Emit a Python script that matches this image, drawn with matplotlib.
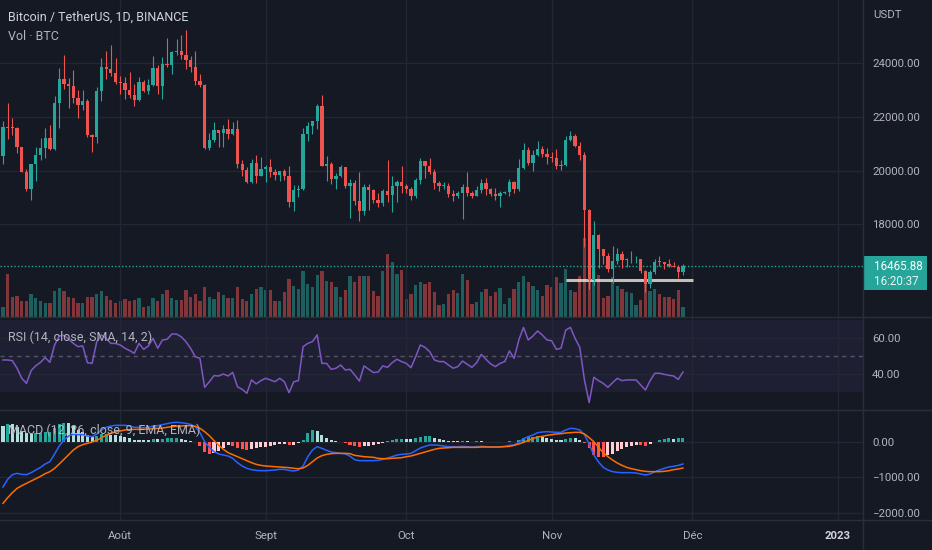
import numpy as np
import pandas as pd
import matplotlib
matplotlib.use("Agg")
import matplotlib.pyplot as plt
import matplotlib.dates as mdates
from matplotlib.patches import Rectangle
from matplotlib.lines import Line2D
from matplotlib.transforms import IdentityTransform

# ---------------- data ----------------
start_date = "2022-07-07"
opens = [20548,21618,21588,21580,20862,19963,19329,20235,20588,20830,
         21196,20785,22525,23410,23223,23153,22684,22451,22579,21310,
         21254,22952,23843,23775,23643,23293,23269,22988,22819,22626,
         23312,22954,23175,23810,23149,23954,23934,24403,24442,24305,
         24095,23855,23343,23191,20834,21141,21517,21400,21529,21368,
         21560,20241,20037,19555,20285,19811,20050,20127,19953,19832,
         19987,19812,18837,19290,19320,21361,21648,21826,22396,20173,
         20226,19701,19803,20114,19417,19538,18874,18476,19402,19289,
         18920,18803,19222,19080,19412,19591,19423,19311,19057,19630,
         20337,20159,19955,19530,19417,19439,19131,19060,19155,19375,
         19176,19069,19262,19549,19328,19123,19041,19164,19204,19570,
         19330,20080,20771,20295,20591,20809,20627,20491,20483,20151,
         20207,21149,21299,20905,20591,18547,15922,17601,17071,16812,
         16330,16619,16900,16663,16692,16695,16705,16280,15781,16227,
         16603,16598,16522,16458,16428,16212]
highs = [21839,22527,21950,21608,20877,20060,20250,20880,21200,21578,
         21685,22777,23800,24280,23442,23757,22996,23014,22667,21348,
         23112,24199,24442,24668,24194,23509,23463,23647,23223,23472,
         23354,23402,24245,23933,24226,24918,24456,24888,25047,25211,
         24247,24446,23600,23205,21382,21800,21522,21680,21900,21819,
         21886,20400,20142,20433,20575,20490,20208,20445,20058,20000,
         20055,20180,19464,19457,21597,21810,21860,22488,22799,20540,
         20330,19891,20189,20117,19686,19634,19956,19500,19500,19316,
         19180,19318,20385,19790,19645,20185,19485,19395,19719,20475,
         20365,20456,20055,19627,19558,19525,19268,19225,19513,19951,
         19227,19426,19676,19706,19360,19347,19250,19257,19695,19601,
         20415,21020,20875,20750,21085,20931,20845,20700,20800,20393,
         21302,21480,21365,21070,20700,18587,18136,17655,17094,16950,
         17190,17134,17015,16750,17010,16820,16720,16290,16300,16708,
         16812,16613,16700,16600,16483,16530]
lows = [20236,21189,21338,20655,19937,19240,18910,19616,20385,20484,
        20755,20762,21582,23040,22341,22500,21950,22258,21250,20706,
        21042,22582,23414,23502,23227,22850,22654,22681,22400,22587,
        22909,22844,23155,22865,22665,23852,23583,24296,24150,23773,
        23671,23180,23108,20806,20762,21068,20890,20890,21155,21310,
        20107,19800,19520,19550,19540,19800,19565,19754,19655,19600,
        19636,18649,18510,19010,19291,21111,21350,21538,20155,19617,
        19497,19320,19748,19335,18232,18711,18125,18356,18531,18805,
        18630,18680,18816,18471,18843,19155,19160,18920,18960,19490,
        19730,19853,19320,19252,19316,19020,18860,18965,18190,19070,
        18975,19063,19160,19096,19068,18900,18650,19111,19070,19157,
        19240,20050,20190,20000,20552,20500,20237,20330,20048,20032,
        20180,21080,20880,20385,17166,15588,15754,16361,16538,16214,
        15815,16527,16368,16410,16560,16550,16180,15476,15630,16160,
        16458,16353,16400,16400,16000,16110]
closes = [21618,21588,21580,20862,19963,19329,20235,20588,20830,21196,
          20785,22525,23410,23223,23153,22684,22451,22579,21310,21254,
          22952,23843,23775,23643,23293,23269,22988,22819,22626,23312,
          22954,23175,23810,23149,23954,23934,24403,24442,24305,24095,
          23855,23343,23191,20834,21141,21517,21400,21529,21368,21560,
          20241,20037,19555,20285,19811,20050,20127,19953,19832,19987,
          19812,18837,19290,19320,21361,21648,21826,22396,20173,20226,
          19701,19803,20114,19417,19538,18874,18476,19402,19289,18920,
          18803,19222,19080,19412,19591,19423,19311,19057,19630,20337,
          20159,19955,19530,19417,19439,19131,19060,19155,19375,19176,
          19069,19262,19549,19328,19123,19041,19164,19204,19570,19330,
          20080,20771,20295,20591,20809,20627,20491,20483,20151,20207,
          21149,21299,20905,20591,18547,15922,17601,17071,16812,16330,
          16619,16900,16663,16692,16700,16705,16280,15781,16227,16603,
          16598,16522,16458,16428,16212,16465.88]
# volume, thousands of BTC
volumes_k = [100,430,200,210,160,160,230,190,160,140,
             140,260,290,260,200,190,140,140,200,200,
             230,260,210,170,140,160,180,160,170,190,
             100,110,190,160,230,270,190,170,170,270,
             200,230,160,300,200,180,250,220,190,190,
             300,180,160,230,280,300,270,270,160,160,
             250,380,310,280,460,330,300,420,460,360,
             350,300,200,270,410,350,410,410,410,260,
             210,460,630,550,430,470,180,230,320,350,
             330,350,250,120,130,230,270,240,430,370,
             130,150,250,280,210,250,290,130,190,280,
             350,410,350,310,270,210,320,300,400,340,
             480,270,250,410,790,650,520,420,190,210,
             400,310,280,250,240,120,170,340,260,280,
             230,200,200,180,270,100]
rsi = [47.8,47.8,47.4,43.2,37.6,34.8,41.9,44.6,46.5,49.1,
       46.5,56.1,61.1,61.5,59.3,57.0,55.2,55.6,46.3,45.9,
       58.0,61.7,59.8,57.0,57.0,56.1,54.3,53.0,51.5,57.0,
       53.7,55.6,59.8,54.3,58.9,59.3,62.2,62.2,60.7,58.0,
       54.3,49.6,48.7,32.6,35.7,39.1,38.9,40.0,38.9,40.9,
       32.9,31.5,29.3,36.7,34.5,36.3,37.6,36.7,35.7,37.6,
       35.7,29.6,35.7,36.3,55.2,57.0,58.0,61.7,45.9,45.9,
       42.6,43.2,45.0,42.2,42.6,39.5,36.1,44.5,42.6,40.8,
       41.1,44.5,43.7,46.3,48.2,46.9,45.9,43.5,49.6,56.1,
       54.8,52.4,47.8,46.9,46.9,45.0,43.2,44.1,47.2,45.4,
       43.7,46.3,50.9,48.2,45.6,44.1,45.9,46.9,52.8,48.7,
       58.9,65.9,58.9,61.1,63.9,61.7,58.9,58.5,53.7,54.3,
       64.4,65.9,59.8,54.8,36.7,24.1,38.2,36.3,34.8,32.6,
       35.2,37.6,36.3,36.7,36.7,36.7,33.9,31.1,36.3,40.4,
       40.4,39.8,39.3,38.9,37.0,41.1]
macd = [-1268,-1052,-921,-883,-911,-921,-864,-789,-714,-620,
        -554,-338,-113,56,169,216,206,206,169,150,
        225,338,413,450,469,469,469,450,413,413,
        403,413,450,460,488,516,544,554,544,525,
        497,431,262,9,-151,-273,-338,-367,-395,-461,
        -583,-677,-742,-780,-799,-808,-808,-799,-789,-770,
        -770,-799,-817,-789,-677,-414,-226,-132,-179,-235,
        -282,-301,-320,-335,-400,-498,-526,-526,-526,-526,
        -517,-489,-451,-414,-367,-348,-338,-320,-245,-169,
        -123,-85,-85,-94,-113,-132,-132,-132,-123,-132,
        -141,-132,-123,-132,-141,-141,-132,-123,-94,-85,
        -10,93,150,197,262,281,291,281,272,272,
        338,385,375,338,206,-57,-367,-564,-714,-789,
        -836,-855,-864,-864,-864,-874,-902,-930,-902,-836,
        -789,-742,-705,-686,-658,-620]
signal = [-1728,-1569,-1428,-1306,-1231,-1165,-1099,-1033,-968,-892,
          -836,-742,-620,-489,-357,-226,-132,-76,-38,0,
          46,122,187,244,281,309,338,347,356,356,
          356,366,375,385,394,413,432,441,450,460,
          460,441,385,291,178,37,-94,-207,-301,-357,
          -414,-470,-526,-583,-630,-658,-677,-686,-695,-705,
          -714,-723,-742,-752,-733,-658,-554,-451,-385,-348,
          -329,-320,-320,-320,-329,-376,-395,-414,-423,-432,
          -461,-470,-470,-461,-451,-442,-414,-395,-357,-320,
          -282,-245,-207,-179,-169,-160,-151,-151,-151,-151,
          -151,-151,-141,-141,-141,-141,-141,-132,-123,-94,
          -57,-10,46,93,140,159,187,206,225,234,
          253,262,272,272,225,122,9,-151,-301,-414,
          -508,-592,-658,-714,-752,-780,-808,-827,-836,-836,
          -836,-827,-808,-780,-761,-733]
histogram = [460,517,507,423,320,244,235,244,254,272,
             282,404,507,545,526,442,338,282,207,150,
             179,216,226,206,188,160,131,103,57,57,
             47,47,75,75,94,103,112,113,94,65,
             37,-10,-123,-282,-329,-310,-244,-160,-94,-104,
             -169,-207,-216,-197,-169,-150,-131,-113,-94,-65,
             -56,-76,-75,-37,56,244,328,319,206,113,
             47,19,0,-15,-71,-122,-131,-112,-103,-94,
             -56,-19,19,47,84,94,76,75,112,151,
             159,160,122,85,56,28,19,19,28,19,
             10,19,18,9,0,0,9,9,29,9,
             47,120,140,150,170,150,120,90,55,45,
             85,123,103,66,-19,-179,-376,-413,-413,-375,
             -328,-263,-206,-150,-112,-94,-94,-103,-66,0,
             47,85,103,94,103,113]
month_ticks = ["2022-08-01", "2022-09-01", "2022-10-01", "2022-11-01", "2022-12-01", "2023-01-01"]
month_labels = ["Août", "Sept", "Oct", "Nov", "Déc", "2023"]
price_ticks = [18000, 20000, 22000, 24000]
rsi_ticks = [40, 60]
macd_ticks = [-2000, -1000, 0]
drawn_level = 15930
drawn_start, drawn_end = "2022-11-04 00:00", "2022-12-01 06:00"
countdown = "16:20:37"

# ---------------- style ----------------
plt.rcParams["font.family"] = ["Roboto", "DejaVu Sans"]
BG = "#151924"
GRID = "#232733"
SEP = "#2A2E39"
UP, DOWN = "#26A69A", "#EF5350"
TXT = "#B2B5BE"
W, H = 932, 550
AX_RIGHT = 863

o = np.array(opens, float); hi = np.array(highs, float)
lo = np.array(lows, float); c = np.array(closes, float)
dates = pd.date_range(start_date, periods=len(c), freq="D")
x = mdates.date2num(dates)
up = c >= o
ccol = np.where(up, UP, DOWN)

fig = plt.figure(figsize=(W / 100, H / 100), dpi=100, facecolor=BG)


def rect(top, bottom):
    return [0, 1 - bottom / H, AX_RIGHT / W, (bottom - top) / H]


ax_vol = fig.add_axes(rect(0, 317))
ax = fig.add_axes(rect(0, 317), sharex=ax_vol)
ax_rsi = fig.add_axes(rect(317, 410), sharex=ax_vol)
ax_m = fig.add_axes(rect(410, 520), sharex=ax_vol)
ax_vol.set_zorder(0); ax.set_zorder(1)
ax.patch.set_visible(False)

xmin, xmax = x[0] - 0.64, x[0] + 183.4
mt = mdates.date2num(pd.to_datetime(month_ticks, format="%Y-%m-%d"))
for a in (ax_vol, ax, ax_rsi, ax_m):
    a.set_facecolor(BG)
    for s in a.spines.values():
        s.set_visible(False)
    a.set_xlim(xmin, xmax)
    a.set_xticks(mt)
    a.tick_params(axis="both", length=0, colors=TXT, labelsize=8.2)
    a.yaxis.tick_right()
    a.tick_params(axis="y", pad=6.5)
    a.grid(True, color=GRID, lw=1, zorder=0)
    a.set_axisbelow(True)
for a in (ax_vol, ax, ax_rsi):
    a.tick_params(labelbottom=False)

# volume
ax_vol.bar(x, volumes_k, width=0.7, color=ccol, alpha=0.5, zorder=1)
ax_vol.set_ylim(0, 3170)
ax_vol.set_yticks([])
ax_vol.grid(False)

# candles
ax.vlines(x, lo, hi, colors=ccol, lw=0.8, zorder=3)
body = np.maximum(np.abs(c - o), 30)
ax.bar(x, body, bottom=np.minimum(o, c), width=0.7, color=ccol, zorder=4)
ax.set_ylim(14551, 26344)
ax.set_yticks(price_ticks)
ax.set_yticklabels([f"{v:.2f}" for v in price_ticks])
ax.axhline(c[-1], color=UP, lw=1, ls=(0, (1, 1.5)), zorder=2)
ax.plot(mdates.date2num(pd.to_datetime([drawn_start, drawn_end], format="%Y-%m-%d %H:%M")),
        [drawn_level] * 2, color="#F2E8D8", lw=2.2, alpha=0.8, solid_capstyle="butt", zorder=2.5)

# RSI
ax_rsi.axhspan(30, 70, color="#7E57C2", alpha=0.1, lw=0, zorder=0.5)
ax_rsi.axhline(50, color="#787B86", lw=1, ls=(0, (3, 3)), alpha=0.6, zorder=1)
ax_rsi.plot(x, rsi, color="#7E57C2", lw=1.1, zorder=3)
ax_rsi.set_ylim(20, 71.67)
ax_rsi.set_yticks(rsi_ticks)
ax_rsi.set_yticklabels([f"{v:.2f}" for v in rsi_ticks])

# MACD
hv = np.array(histogram, float)
prev = np.concatenate([[hv[0]], hv[:-1]])
hcol = np.where(hv >= 0, np.where(hv > prev, "#26A69A", "#B2DFDB"),
                np.where(hv > prev, "#FFCDD2", "#FF5252"))
ax_m.bar(x, hv, width=0.65, color=hcol, zorder=2)
ax_m.plot(x, macd, color="#2962FF", lw=1.1, zorder=3)
ax_m.plot(x, signal, color="#FF6D00", lw=1.1, zorder=4)
ax_m.set_ylim(-2197, 901)
ax_m.set_yticks(macd_ticks)
ax_m.set_yticklabels([f"{v:.2f}".replace("-", "\u2212") for v in macd_ticks])
ax_m.set_xticklabels(month_labels)
ax_m.tick_params(axis="x", pad=8)
for lab in ax_m.get_xticklabels():
    if lab.get_text() == "2023":
        lab.set_fontweight("bold"); lab.set_color("#D1D4DC")

# pane separators
for yy in (317, 410, 520):
    fig.add_artist(Line2D([0, 1], [1 - yy / H] * 2, color=SEP, lw=1, transform=fig.transFigure))
fig.add_artist(Line2D([AX_RIGHT / W] * 2, [0, 1], color=SEP, lw=1, transform=fig.transFigure))

# legends / labels
fig.text(8 / W, 1 - 17 / H, "Bitcoin / TetherUS, 1D, BINANCE", color="#D1D4DC", fontsize=9.0, va="center")
fig.text(8 / W, 1 - 37 / H, "Vol \u00b7 BTC", color=TXT, fontsize=9.0, va="center")
fig.text(8 / W, 1 - 337 / H, "RSI (14, close, SMA, 14, 2)", color=TXT, fontsize=9.0, va="center")
fig.text(8 / W, 1 - 430 / H, "MACD (12, 26, close, 9, EMA, EMA)", color=TXT, fontsize=9.0, va="center")
fig.text(873 / W, 1 - 15 / H, "USDT", color=TXT, fontsize=8.2, va="center")

# last price tag
fig.canvas.draw()
y_disp = ax.transData.transform((x[-1], c[-1]))[1]
fig.add_artist(Rectangle((AX_RIGHT, y_disp - 24), 64, 34, transform=IdentityTransform(),
                         facecolor=UP, edgecolor="none"))
fig.text(874, y_disp - 1, f"{c[-1]:.2f}", transform=IdentityTransform(), color="white",
         fontsize=8.4, va="center", ha="left")
fig.text(874, y_disp - 16, countdown, transform=IdentityTransform(), color="#E8F4F2",
         fontsize=8.4, va="center", ha="left")

fig.savefig("out.png", dpi=100, facecolor=BG)
